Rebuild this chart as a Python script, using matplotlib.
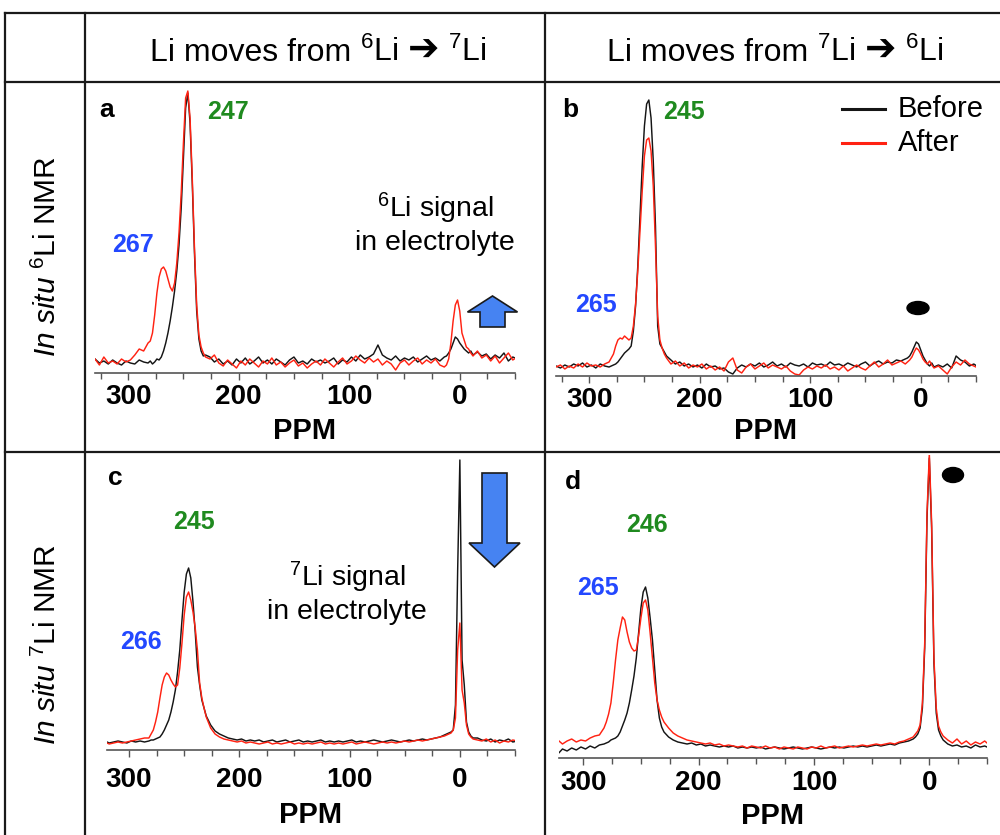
import matplotlib
matplotlib.use('Agg')
import matplotlib.pyplot as plt
import matplotlib.patches as mpatches
from matplotlib.transforms import Affine2D
from matplotlib.ticker import MultipleLocator

plt.rcParams['font.family'] = ['Liberation Sans', 'DejaVu Sans']
plt.rcParams['mathtext.fontset'] = 'custom'
plt.rcParams['mathtext.rm'] = 'Liberation Sans'
plt.rcParams['mathtext.it'] = 'Liberation Sans:italic'
plt.rcParams['mathtext.default'] = 'rm'

# DATA: chemical shift (ppm) grid shared by all spectra, intensity in a.u.
ppm = [330, 326, 322, 318, 314, 310, 306, 302, 298, 294, 290, 286, 282,
       280, 278, 276, 274, 272, 270, 268, 266, 264, 262, 260, 258, 256, 254,
       252, 250, 248, 246, 244, 242, 240, 238, 236, 234, 232, 230,
       226, 222, 218, 214, 210, 206, 202, 198, 194, 190, 186, 182, 178, 174,
       170, 166, 162, 158, 154, 150, 146, 142, 138, 134, 130, 126, 122, 118,
       114, 110, 106, 102, 98, 94, 90, 86, 82, 78, 74, 70, 66, 62, 58, 54,
       50, 46, 42, 38, 34, 30, 26, 22, 18, 14,
       12, 10, 8, 6, 4, 2, 0, -2, -4, -6, -8, -10, -12,
       -16, -20, -24, -28, -32, -36, -40, -44, -48, -52]

# a: in situ 6Li NMR, 6Li -> 7Li
a_before = [14, 10, 12, 9, 13, 10, 8, 12, 10, 9, 13, 11, 10,
            12, 9, 11, 14, 13, 16, 22, 30, 40, 52, 66, 82, 102, 128,
            165, 215, 265, 280, 250, 190, 120, 62, 34, 22, 17, 18,
            16, 11, 14, 9, 12, 8, 14, 10, 15, 9, 12, 16, 10, 13,
            9, 14, 11, 8, 13, 16, 10, 12, 9, 14, 11, 13, 10, 12,
            15, 9, 13, 11, 16, 12, 18, 14, 16, 19, 28, 18, 15, 13, 17, 12,
            15, 13, 16, 11, 14, 17, 13, 15, 12, 16,
            17, 20, 24, 30, 36, 34, 30, 27, 24, 22, 20, 22, 18,
            21, 17, 19, 14, 18, 15, 20, 12, 16, 14]
a_after = [14, 8, 16, 10, 12, 9, 14, 11, 13, 18, 24, 22, 30,
           32, 40, 58, 80, 96, 104, 106, 102, 94, 86, 82, 90, 110, 140,
           180, 230, 275, 282, 255, 195, 125, 68, 38, 26, 20, 16,
           14, 18, 10, 7, 13, 9, 5, 12, 8, 14, 10, 6, 12, 9,
           15, 8, 11, 6, 10, 13, 7, 10, 5, 9, 12, 8, 14, 10,
           6, 11, 15, 9, 12, 17, 13, 10, 15, 11, 14, 8, 12, 9, 3, 10,
           13, 8, 12, 15, 9, 13, 10, 14, 8, 6,
           8, 14, 30, 52, 68, 73, 62, 40, 33, 26, 24, 20, 17,
           22, 15, 18, 12, 17, 10, 15, 20, 13, 16]

# b: in situ 6Li NMR, 7Li -> 6Li
b_before = [10, 8, 11, 9, 12, 10, 13, 9, 11, 8, 12, 10, 9,
            10, 11, 12, 14, 17, 20, 23, 25, 27, 30, 45, 70, 110, 160,
            210, 250, 272, 276, 258, 215, 150, 50, 32, 28, 24, 20,
            16, 12, 14, 10, 12, 9, 11, 8, 12, 9, 10, 7, 8, 4,
            2, 8, 11, 9, 12, 10, 13, 9, 11, 14, 10, 12, 9, 13,
            11, 10, 12, 9, 13, 11, 12, 10, 14, 11, 12, 10, 13, 11, 9, 12,
            14, 10, 13, 15, 12, 14, 13, 16, 15, 17,
            18, 20, 24, 29, 34, 32, 26, 20, 16, 12, 10, 13, 9,
            11, 9, 12, 8, 20, 16, 14, 10, 12, 9]
b_after = [9, 11, 7, 10, 8, 12, 9, 13, 10, 11, 9, 12, 14,
           18, 22, 30, 36, 38, 37, 40, 38, 36, 38, 50, 72, 105, 145,
           185, 220, 236, 238, 225, 190, 130, 60, 36, 28, 22, 18,
           12, 15, 10, 13, 8, 11, 9, 12, 7, 10, 6, 9, 5, 14,
           18, 6, 3, 9, 12, 7, 10, 13, 8, 11, 9, 7, 10, 5,
           2, 1, 6, 9, 7, 10, 8, 11, 7, 9, 6, 10, 5, 8, 11, 8,
           6, 10, 14, 9, 12, 16, 11, 13, 15, 12,
           14, 16, 19, 24, 28, 26, 22, 17, 14, 12, 15, 11, 8,
           10, 6, 2, 9, 14, 11, 16, 12, 10, 8]

# c: in situ 7Li NMR, 6Li -> 7Li
c_before = [8, 8, 9, 7, 8, 9, 8, 7, 9, 8, 9, 8, 9,
            10, 10, 11, 12, 13, 16, 20, 25, 30, 38, 48, 60, 78, 100,
            130, 158, 176, 182, 172, 148, 118, 83, 65, 50, 42, 34,
            25, 19, 16, 14, 12, 11, 10, 11, 9, 10, 9, 10, 8, 9,
            10, 8, 9, 10, 8, 9, 10, 8, 9, 8, 9, 10, 8, 9,
            8, 9, 8, 9, 10, 8, 9, 8, 9, 10, 9, 8, 9, 10, 9, 8,
            9, 10, 9, 10, 11, 10, 11, 12, 13, 15,
            16, 17, 18, 20, 45, 180, 290, 90, 65, 28, 18, 14, 12,
            12, 10, 9, 11, 8, 10, 9, 11, 8, 9]
c_after = [7, 7, 8, 6, 7, 8, 7, 8, 9, 10, 11, 12, 12,
           16, 20, 28, 38, 52, 65, 73, 77, 75, 70, 66, 63, 65, 82,
           107, 135, 153, 158, 150, 138, 122, 100, 67, 52, 42, 33,
           22, 16, 13, 11, 10, 9, 8, 9, 7, 8, 7, 6, 7, 8,
           6, 7, 6, 7, 8, 6, 7, 6, 7, 6, 7, 8, 6, 7,
           6, 7, 6, 7, 8, 6, 7, 8, 7, 6, 7, 8, 7, 8, 7, 8,
           9, 8, 9, 10, 9, 10, 11, 12, 13, 14,
           15, 16, 17, 20, 32, 100, 127, 60, 47, 25, 16, 13, 11,
           10, 9, 11, 8, 10, 7, 9, 8, 10, 9]

# d: in situ 7Li NMR, 7Li -> 6Li
d_before = [8, 6, 4, 9, 7, 10, 8, 11, 9, 12, 10, 13, 14,
            15, 16, 18, 19, 20, 22, 26, 32, 38, 45, 55, 68, 82, 100,
            125, 150, 166, 171, 160, 140, 118, 88, 58, 40, 31, 26,
            21, 18, 16, 15, 14, 15, 13, 14, 12, 13, 12, 11, 12, 11,
            12, 10, 11, 10, 11, 10, 11, 9, 10, 11, 10, 9, 10, 11,
            10, 9, 10, 11, 10, 9, 10, 11, 10, 11, 10, 11, 12, 11, 12, 11,
            12, 13, 12, 13, 14, 13, 15, 16, 17, 19,
            21, 24, 30, 50, 110, 240, 300, 230, 95, 45, 28, 22, 18,
            14, 12, 13, 11, 12, 10, 13, 11, 12, 10]
d_after = [16, 15, 18, 14, 17, 19, 16, 18, 17, 20, 22, 23, 30,
           36, 44, 55, 75, 98, 118, 130, 141, 138, 126, 116, 110, 107, 108,
           122, 140, 155, 158, 148, 125, 100, 75, 58, 48, 41, 36,
           30, 25, 22, 20, 18, 17, 16, 15, 14, 15, 13, 14, 12, 13,
           12, 11, 12, 10, 12, 11, 10, 12, 10, 11, 9, 11, 10, 9,
           11, 10, 9, 11, 10, 12, 10, 11, 12, 10, 11, 12, 11, 12, 13, 12,
           13, 14, 13, 14, 15, 14, 16, 17, 19, 21,
           24, 27, 33, 55, 115, 245, 305, 235, 100, 50, 32, 26, 22,
           18, 15, 19, 14, 17, 13, 16, 14, 17, 13]

W, H = 1000, 835
fig = plt.figure(figsize=(W / 100, H / 100), dpi=100)
renderer = fig.canvas.get_renderer()
# pixel coordinates, origin top-left
px = Affine2D().scale(1 / W, -1 / H).translate(0, 1) + fig.transFigure

black = '#151515'
red = '#ff2212'
green = '#1f8a1f'
blue = '#2348ff'


def text_row(parts, xc, yb):
    # place several text pieces on one baseline, centred on xc
    placed = []
    x = 0
    for s, fam, size, gap in parts:
        kw = {'family': fam} if fam else {}
        t = fig.text(0, yb, s, transform=px, ha='left', va='baseline',
                     fontsize=size, **kw)
        placed.append((t, x))
        x += t.get_window_extent(renderer).width + gap
    total = x - parts[-1][3]
    for t, off in placed:
        t.set_x(xc - total / 2 + off)


# table frame
frame = dict(color='#1a1a1a', lw=1.6, transform=px)
fig.add_artist(plt.Line2D([5, 1000], [13, 13], **frame))
fig.add_artist(plt.Line2D([5, 1000], [82, 82], **frame))
fig.add_artist(plt.Line2D([5, 1000], [452, 452], **frame))
for xv in [5, 85, 545]:
    fig.add_artist(plt.Line2D([xv, xv], [13, 835], **frame))

for xc, iso_from, iso_to in [(318, '6', '7'), (775, '7', '6')]:
    text_row([('Li moves from', None, 23, 9),
              ('${}^{%s}$Li' % iso_from, None, 23, 9),
              ('\u2794', 'DejaVu Sans', 27, 9),
              ('${}^{%s}$Li' % iso_to, None, 23, 0)], xc, 61)

fig.text(47, 257, '$\\mathit{In\\ situ}$ ${}^{6}$Li NMR', transform=px,
         ha='center', va='center', rotation=90, fontsize=21.5)
fig.text(47, 645, '$\\mathit{In\\ situ}$ ${}^{7}$Li NMR', transform=px,
         ha='center', va='center', rotation=90, fontsize=21.5)

# panels: (left, right, top, axis line y) in pixels, xlim, ylim top, tick pad, label pad
panels = [
    ('a', a_before, a_after, (95, 515, 85, 373), 330, 288, 3, 5),
    ('b', b_before, b_after, (556, 976, 88, 376), 330, 288, 3, 3),
    ('c', c_before, c_after, (107, 515, 455, 750), 320, 295, 7, 6),
    ('d', d_before, d_after, (559, 987, 455, 758), 321, 303, 4, 4),
]

axes = {}
for name, before, after, box, xleft, ytop, tpad, lpad in panels:
    l, r, t, b = box
    ax = fig.add_axes([l / W, 1 - b / H, (r - l) / W, (b - t) / H])
    ax.plot(ppm, before, color=black, lw=1.05, label='Before')
    ax.plot(ppm, after, color=red, lw=1.05, label='After')
    ax.set_xlim(xleft, -50)
    ax.set_ylim(0, ytop)
    for s in ['top', 'right', 'left']:
        ax.spines[s].set_visible(False)
    ax.spines['bottom'].set_color('#555555')
    ax.spines['bottom'].set_linewidth(1.2)
    ax.set_yticks([])
    ax.set_xticks([300, 200, 100, 0])
    ax.xaxis.set_minor_locator(MultipleLocator(25))
    ax.tick_params(axis='x', which='major', direction='out', length=5,
                   width=1.0, color='#555555', pad=tpad, labelsize=20)
    ax.tick_params(axis='x', which='minor', direction='out', length=4,
                   width=1.0, color='#555555')
    for lab in ax.get_xticklabels():
        lab.set_fontweight('bold')
    ax.set_xlabel('PPM', fontsize=21, fontweight='bold', labelpad=lpad)
    ax.patch.set_alpha(0)
    axes[name] = ax

# panel letters
for name, x, y in [('a', 99, 110), ('b', 562, 110), ('c', 108, 478), ('d', 565, 482)]:
    fig.text(x, y, name, transform=px, ha='left', va='center',
             fontsize=19, fontweight='bold')

# peak labels
peak_labels = [('247', 207, 112, green), ('267', 112, 245, blue),
               ('245', 663, 112, green), ('265', 575, 305, blue),
               ('245', 173, 522, green), ('266', 120, 642, blue),
               ('246', 626, 525, green), ('265', 577, 588, blue)]
for txt, x, y, col in peak_labels:
    fig.text(x, y, txt, transform=px, ha='left', va='center',
             fontsize=18, fontweight='bold', color=col)

fig.text(435, 208, '${}^{6}$Li signal', transform=px, ha='center', va='center', fontsize=20.5)
fig.text(435, 243, 'in electrolyte', transform=px, ha='center', va='center', fontsize=20.5)
fig.text(347, 577, '${}^{7}$Li signal', transform=px, ha='center', va='center', fontsize=20.5)
fig.text(347, 612, 'in electrolyte', transform=px, ha='center', va='center', fontsize=20.5)

# legend in b
for y, col, lab in [(109, black, 'Before'), (143, red, 'After')]:
    fig.add_artist(plt.Line2D([842, 885], [y, y], color=col, lw=2.2, transform=px))
    fig.text(898, y, lab, transform=px, ha='left', va='center', fontsize=21)

# blue arrows
arrow_style = dict(facecolor='#4683f2', edgecolor='#1a1a1a', lw=1.2,
                   length_includes_head=True, transform=px)
fig.add_artist(mpatches.FancyArrow(492.5, 327, 0, -31, width=25, head_width=50,
                                   head_length=16, **arrow_style))
fig.add_artist(mpatches.FancyArrow(494.5, 473, 0, 94, width=25, head_width=51,
                                   head_length=24, **arrow_style))

# black dots marking electrolyte peak
fig.add_artist(mpatches.Ellipse((918, 308), 22, 13, color='black', transform=px))
fig.add_artist(mpatches.Ellipse((953, 475), 21, 15, color='black', transform=px))

fig.savefig('out.png', dpi=100)
